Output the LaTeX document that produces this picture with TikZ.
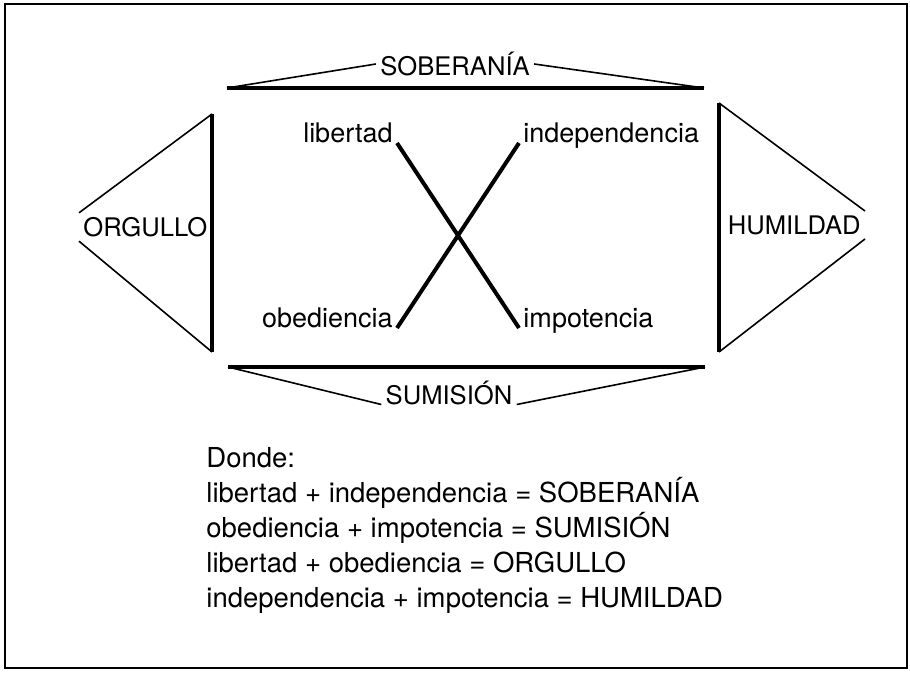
\documentclass[tikz,border=0pt]{standalone}
\usepackage{fontspec}
\setmainfont{TeX Gyre Heros}
\usetikzlibrary{positioning}

\begin{document}
\begin{tikzpicture}[
    x=0.5pt, y=-0.5pt,
    word/.style={inner sep=2pt, font=\fontsize{13.5}{16}\selectfont},
    pole/.style={inner sep=2pt, font=\fontsize{12.8}{15}\selectfont},
    note/.style={inner sep=2pt, align=left, font=\fontsize{13.75}{17.5}\selectfont},
    bar/.style={line width=2.2pt},
    side/.style={line width=0.8pt},
    cross/.style={line width=2pt}
]
    \useasboundingbox (0,0) rectangle (910,673);
    \draw[line width=1.2pt] (5,4) rectangle (907,668);

    % ends of the four heavy bars
    \coordinate (sobL) at (227,88);
    \coordinate (sobR) at (704,88);
    \coordinate (sumL) at (228,367);
    \coordinate (sumR) at (705,367);
    \coordinate (orgT) at (212,114);
    \coordinate (orgB) at (212,352);
    \coordinate (humT) at (719,103);
    \coordinate (humB) at (719,352);

    % the four poles
    \node[pole] (sob) at (455,64) {SOBERANÍA};
    \node[pole] (sum) at (449,393) {SUMISIÓN};
    \node[pole, anchor=west] (org) at (79,227) {ORGULLO};
    \node[pole, anchor=east] (hum) at (865,225) {HUMILDAD};

    % the four words of the cross
    \node[word, anchor=base east] (lib) at (397,143) {libertad};
    \node[word, anchor=base west] (ind) at (519,143) {independencia};
    \node[word, anchor=base east] (obe) at (397,328) {obediencia};
    \node[word, anchor=base west] (imp) at (519,328) {impotencia};

    \draw[bar] (sobL) -- (sobR);
    \draw[bar] (sumL) -- (sumR);
    \draw[bar] (orgT) -- (orgB);
    \draw[bar] (humT) -- (humB);

    \draw[side] (sobL) -- (sob.west);
    \draw[side] (sob.east) -- (sobR);
    \draw[side] (sumL) -- (sum.base west);
    \draw[side] (sum.base east) -- (sumR);
    \draw[side] (orgT) -- (org.north west);
    \draw[side] (org.south west) -- (orgB);
    \draw[side] (humT) -- (hum.north east);
    \draw[side] (hum.south east) -- (humB);

    \draw[cross] (lib.base east) -- (imp.base west);
    \draw[cross] (ind.base west) -- (obe.base east);

    \node[note, anchor=north west] (donde) at (202,443) {Donde:\\
        libertad + independencia = SOBERANÍA\\
        obediencia + impotencia = SUMISIÓN\\
        libertad + obediencia = ORGULLO\\
        independencia + impotencia = HUMILDAD};
\end{tikzpicture}
\end{document}
